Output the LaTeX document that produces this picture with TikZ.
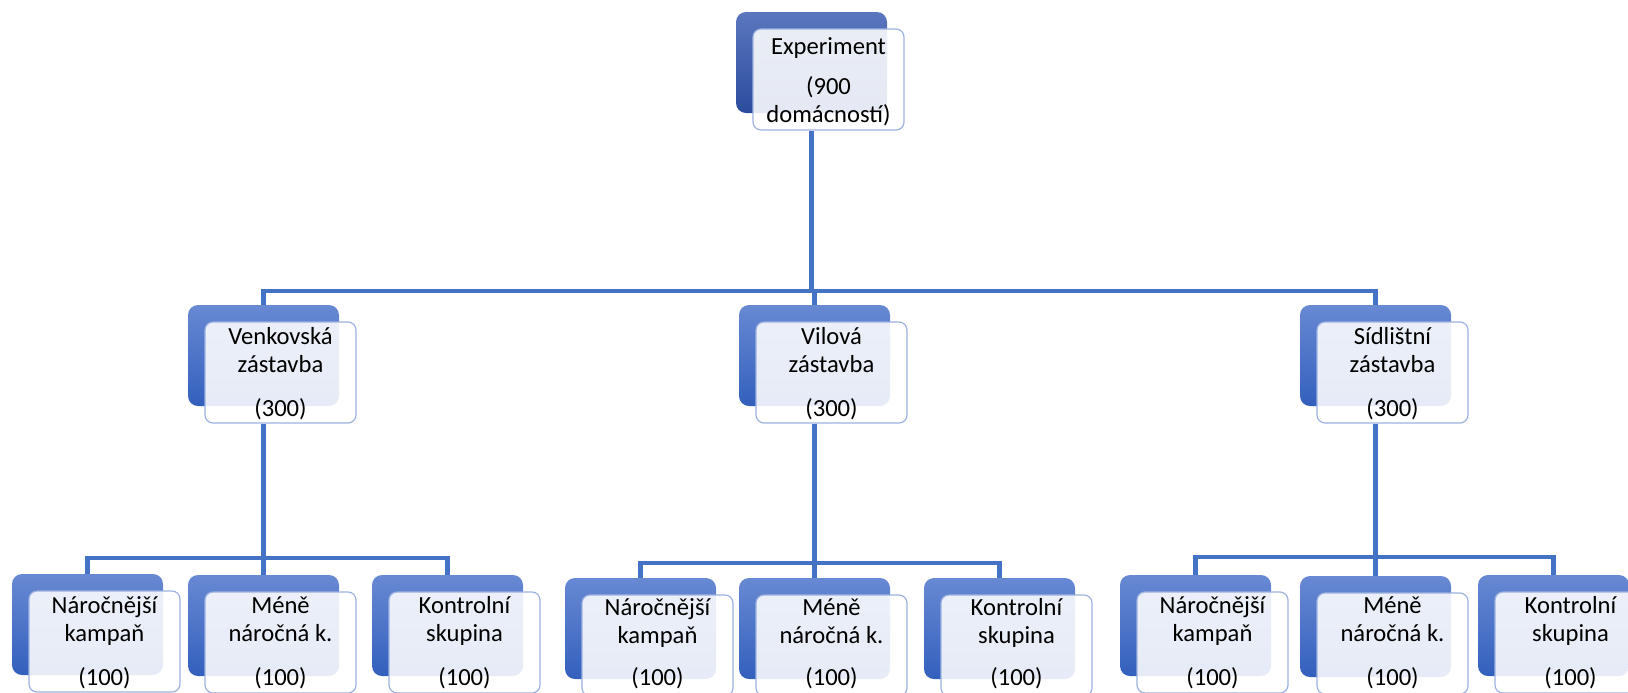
\documentclass[tikz,border=0pt]{standalone}
\usepackage{fontspec}
\setmainfont{Carlito}
\usetikzlibrary{positioning,calc,backgrounds}
\definecolor{orgline}{HTML}{4472C4}
\definecolor{rootTop}{HTML}{5A76BE}
\definecolor{rootBot}{HTML}{2B4C9E}
\definecolor{backTop}{HTML}{6889D3}
\definecolor{backBot}{HTML}{3360BD}
\definecolor{frontLine}{HTML}{9DB2E0}

\begin{document}
\begin{tikzpicture}[x=0.5pt,y=-0.5pt,
      backbox/.style={rounded corners=5pt,minimum width=75.5pt,minimum height=50.5pt,
                  inner sep=0pt,top color=backTop,bottom color=backBot},
      rootbox/.style={backbox,top color=rootTop,bottom color=rootBot},
      frontbox/.style={draw=frontLine,line width=0.6pt,rounded corners=4pt,fill=white,
                  fill opacity=0.88,minimum width=75.5pt,minimum height=50.5pt,inner sep=0pt},
      boxtext/.style={font=\fontsize{12.3}{14}\selectfont,align=center,anchor=base,
                  inner sep=0pt,text=black},
      conn/.style={orgline,line width=2.2pt}]
    \useasboundingbox (0,0) rectangle (1628,692);
    \clip (0,0) rectangle (1628,692);
    % top
    \node[rootbox] (root) at (811.5,62.5) {};
    \node[frontbox] (root-f) at ($(root)+(17,17)$) {};
    \node[boxtext] (root-t) at ($(root-f.north)+(0,94)$) {Experiment\\[6pt](900\\domácností)};
    % middle row
    \node[backbox] (ven) at (263.5,355.5) {};
    \node[frontbox] (ven-f) at ($(ven)+(17,17)$) {};
    \node[boxtext] (ven-t) at ($(ven-f.north)+(0,95)$) {Venkovská\\zástavba\\[8pt](300)};
    \node[backbox] (vil) at (814.5,355.5) {};
    \node[frontbox] (vil-f) at ($(vil)+(17,17)$) {};
    \node[boxtext] (vil-t) at ($(vil-f.north)+(0,95)$) {Vilová\\zástavba\\[8pt](300)};
    \node[backbox] (sid) at (1375.5,355.5) {};
    \node[frontbox] (sid-f) at ($(sid)+(17,17)$) {};
    \node[boxtext] (sid-t) at ($(sid-f.north)+(0,95)$) {Sídlištní\\zástavba\\[8pt](300)};
    % bottom row, venkov
    \node[backbox] (ven1) at (87.5,624.5) {};
    \node[frontbox] (ven1-f) at ($(ven1)+(17,17)$) {};
    \node[boxtext] (ven1-t) at ($(ven1-f.north)+(0,95)$) {Náročnější\\kampaň\\[8pt](100)};
    \node[backbox] (ven2) at (263.5,625.5) {};
    \node[frontbox] (ven2-f) at ($(ven2)+(17,17)$) {};
    \node[boxtext] (ven2-t) at ($(ven2-f.north)+(0,94)$) {Méně\\náročná k.\\[8pt](100)};
    \node[backbox] (ven3) at (447.5,625.5) {};
    \node[frontbox] (ven3-f) at ($(ven3)+(17,17)$) {};
    \node[boxtext] (ven3-t) at ($(ven3-f.north)+(0,94)$) {Kontrolní\\skupina\\[8pt](100)};
    % bottom row, vily
    \node[backbox] (vil1) at (640.5,628.5) {};
    \node[frontbox] (vil1-f) at ($(vil1)+(17,17)$) {};
    \node[boxtext] (vil1-t) at ($(vil1-f.north)+(0,91)$) {Náročnější\\kampaň\\[7pt](100)};
    \node[backbox] (vil2) at (814.5,628.5) {};
    \node[frontbox] (vil2-f) at ($(vil2)+(17,17)$) {};
    \node[boxtext] (vil2-t) at ($(vil2-f.north)+(0,91)$) {Méně\\náročná k.\\[7pt](100)};
    \node[backbox] (vil3) at (999.5,628.5) {};
    \node[frontbox] (vil3-f) at ($(vil3)+(17,17)$) {};
    \node[boxtext] (vil3-t) at ($(vil3-f.north)+(0,91)$) {Kontrolní\\skupina\\[7pt](100)};
    % bottom row, sidliste
    \node[backbox] (sid1) at (1195.5,625.5) {};
    \node[frontbox] (sid1-f) at ($(sid1)+(17,17)$) {};
    \node[boxtext] (sid1-t) at ($(sid1-f.north)+(0,94)$) {Náročnější\\kampaň\\[8pt](100)};
    \node[backbox] (sid2) at (1375.5,626.5) {};
    \node[frontbox] (sid2-f) at ($(sid2)+(17,17)$) {};
    \node[boxtext] (sid2-t) at ($(sid2-f.north)+(0,93)$) {Méně\\náročná k.\\[8pt](100)};
    \node[backbox] (sid3) at (1553.5,625.5) {};
    \node[frontbox] (sid3-f) at ($(sid3)+(17,17)$) {};
    \node[boxtext] (sid3-t) at ($(sid3-f.north)+(0,94)$) {Kontrolní\\skupina\\[8pt](100)};
    % bus lines
    \coordinate (bus0) at (0,291);
    \coordinate (bus1) at (0,558);
    \coordinate (bus2) at (0,563);
    \coordinate (bus3) at (0,557);
    \begin{scope}[on background layer]
      \foreach \k in {ven,vil,sid}
        \draw[conn] (root.center |- root-f.south) -- (root |- bus0) -| (\k.north);
      \foreach \k in {1,2,3} {
        \draw[conn] (ven.center |- ven-f.south) -- (ven |- bus1) -| (ven\k.north);
        \draw[conn] (vil.center |- vil-f.south) -- (vil |- bus2) -| (vil\k.north);
        \draw[conn] (sid.center |- sid-f.south) -- (sid |- bus3) -| (sid\k.north);
      }
    \end{scope}
  \end{tikzpicture}
\end{document}
